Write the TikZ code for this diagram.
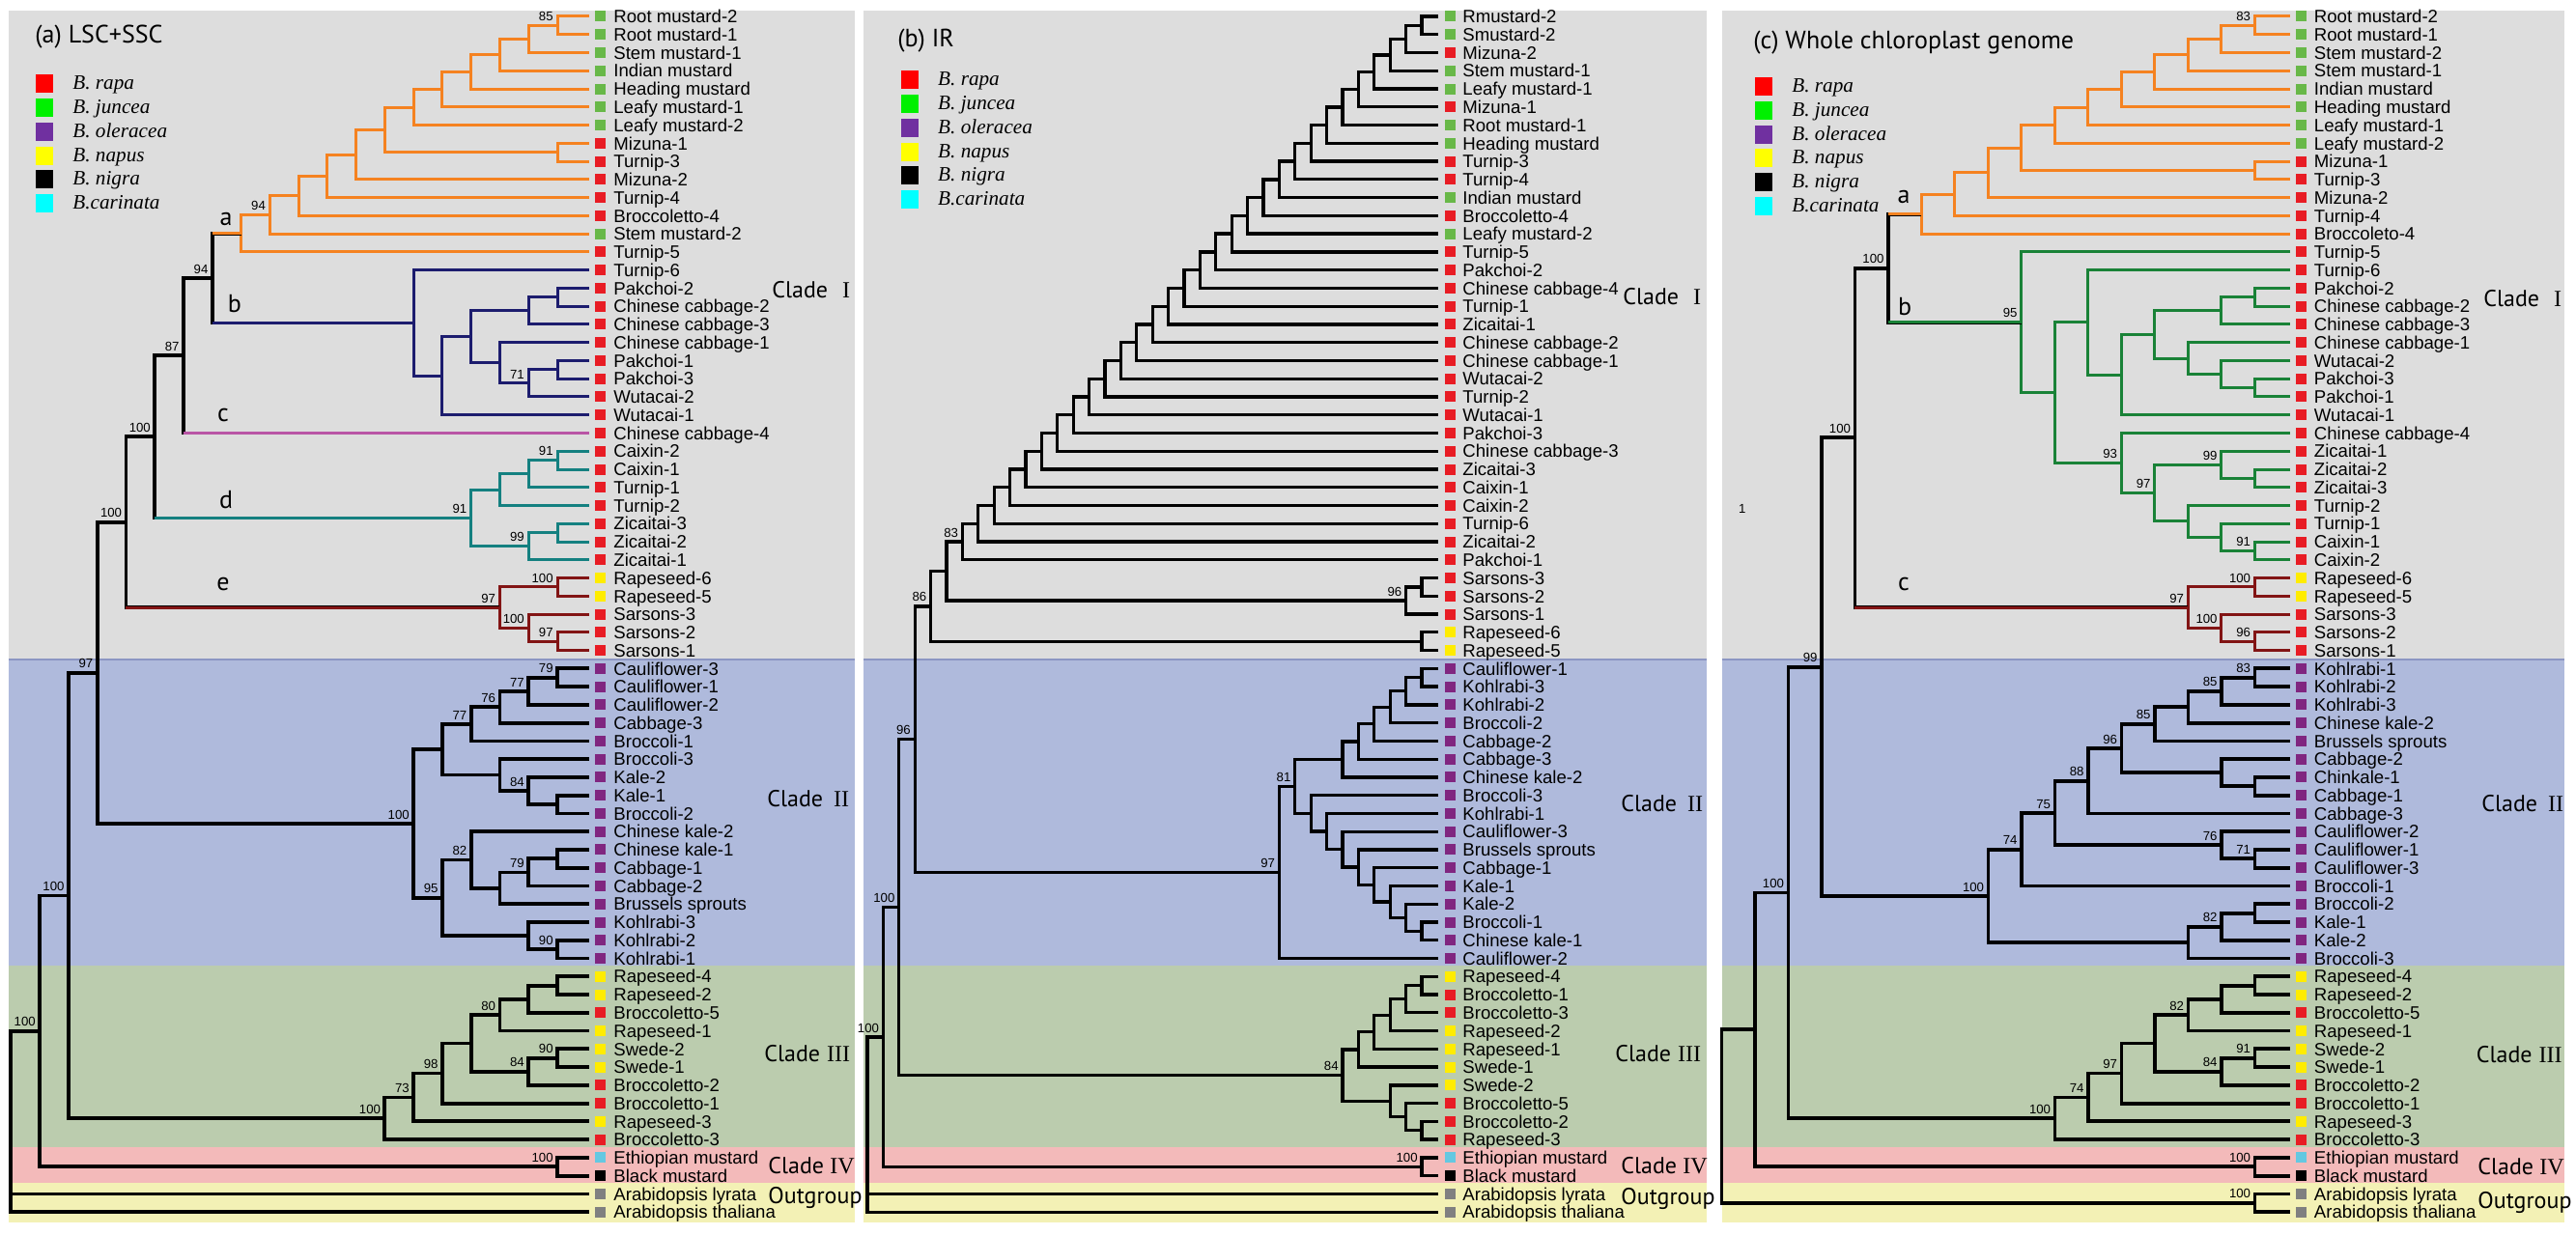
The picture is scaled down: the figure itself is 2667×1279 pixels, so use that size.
\documentclass[tikz,border=0pt]{standalone}
\usepackage{fontspec}
\usetikzlibrary{calc}
\newfontfamily\lsans{Liberation Sans}
\newfontfamily\lserif{Liberation Serif}
\newfontfamily\ptsans{PT Sans}
\definecolor{bgGray}{RGB}{221,221,221}
\definecolor{bgBlue}{RGB}{175,186,220}
\definecolor{bgGreen}{RGB}{187,204,174}
\definecolor{bgPink}{RGB}{243,186,186}
\definecolor{bgYellow}{RGB}{243,241,181}
\definecolor{lnBlue}{RGB}{140,150,195}
\definecolor{xR}{RGB}{232,28,36}
\definecolor{xG}{RGB}{104,184,72}
\definecolor{xP}{RGB}{128,38,128}
\definecolor{xY}{RGB}{255,236,0}
\definecolor{xC}{RGB}{100,200,225}
\definecolor{xK}{RGB}{0,0,0}
\definecolor{xA}{RGB}{128,128,128}
\definecolor{lgR}{RGB}{255,0,0}
\definecolor{lgG}{RGB}{0,240,0}
\definecolor{lgP}{RGB}{112,48,160}
\definecolor{lgY}{RGB}{255,255,0}
\definecolor{lgK}{RGB}{0,0,0}
\definecolor{lgC}{RGB}{0,255,255}
\definecolor{trOR}{RGB}{245,130,32}
\definecolor{trNV}{RGB}{28,28,110}
\definecolor{trMG}{RGB}{185,85,165}
\definecolor{trTL}{RGB}{20,128,128}
\definecolor{trDR}{RGB}{130,20,20}
\definecolor{trGN}{RGB}{25,130,55}
\tikzset{
 tK/.style={draw=black,line width=1.9pt},
 tOR/.style={draw=trOR,line width=1.5pt},
 tNV/.style={draw=trNV,line width=1.5pt},
 tMG/.style={draw=trMG,line width=1.5pt},
 tTL/.style={draw=trTL,line width=1.5pt},
 tDR/.style={draw=trDR,line width=1.5pt},
 tGN/.style={draw=trGN,line width=1.5pt},
 sq/.style={minimum size=5.5pt,inner sep=0pt,outer sep=0pt},
 lbl/.style={font=\lsans\fontsize{9.3}{10}\selectfont,inner sep=0pt,anchor=base west},
 bs/.style={font=\lsans\fontsize{6.6}{7}\selectfont,inner sep=0pt,anchor=south east},
 lg/.style={minimum width=9pt,minimum height=9.5pt,inner sep=0pt},
 lgt/.style={font=\lserif\itshape\fontsize{10.6}{11}\selectfont,inner sep=0pt,anchor=base west},
 ttl/.style={font=\ptsans\fontsize{13}{14}\selectfont,inner sep=0pt,anchor=west},
 cld/.style={font=\ptsans\fontsize{12}{13}\selectfont,inner sep=0pt,anchor=base west},
 brl/.style={font=\ptsans\fontsize{13}{14}\selectfont,inner sep=0pt},
}
\newcommand\trN[5]{\path let \p1=($(#3)!0.5!(#4)$) in coordinate (#1) at ({(#2)*0.5pt},\y1);\draw[#5] (#3) -| (#1) |- (#4);}
\newcommand\trA[5]{\trN{#1}{577-29.77*#2}{#3}{#4}{#5}}
\newcommand\trB[5]{\trN{#1}{1472-16.4*#2}{#3}{#4}{#5}}
\newcommand\trC[5]{\trN{#1}{2334.4-34.5*#2}{#3}{#4}{#5}}
\newcommand\bsv[2]{\node[bs] (L#1) at ([shift={(-2pt,2.2pt)}]#1) {#2};}
\newcommand\mkleaves[5]{\foreach \idx/\col/\lab in {#5}{%
 \coordinate (#1\idx) at (#2,{17+18.76*\idx});
 \node[sq,fill=\col] (#1s\idx) at (#3,{17+18.76*\idx}) {};
 \node[lbl] (#1l\idx) at (#4,{23.7+18.76*\idx}) {\lab};}}
\newcommand\mylegend[4]{\foreach \col/\lab [count=\j from 0] in {lgR/B. rapa,lgG/B. juncea,lgP/B. oleracea,lgY/B. napus,lgK/B. nigra,lgC/B.carinata}{%
 \node[lg,fill=\col] (#1Ls\j) at (#2,{#4+24.7*\j}) {};
 \node[lgt] (#1Lt\j) at (#3,{#4+24.7*\j+6}) {\lab};}}
\newcommand\panelbg[2]{%
 \fill[bgGray] (#1,11) rectangle (#2,683);
 \fill[bgBlue] (#1,683) rectangle (#2,1000);
 \fill[bgGreen] (#1,1000) rectangle (#2,1188);
 \fill[bgPink] (#1,1188) rectangle (#2,1225);
 \fill[bgYellow] (#1,1225) rectangle (#2,1266);
 \draw[lnBlue,line width=0.6pt] (#1,683) -- (#2,683);}
\newcommand\mkclade[4]{\node[cld] (#1) at (#2,{#3+8.4}) {Clade\hspace{3pt}\makebox[13pt]{\lserif #4}};}
\begin{document}
\begin{tikzpicture}[x=0.5pt,y=-0.5pt]
\fill[white] (0,0) rectangle (2667,1279);
\useasboundingbox (0,0) rectangle (2667,1279);
\panelbg{9}{885}
\panelbg{894}{1767}
\panelbg{1783}{2655}
% ---------------- panel (a)
\node[ttl] (titleA) at (36,38) {(a) LSC+SSC};
\mylegend{a}{45.7}{75}{87}
\mkleaves{a}{610}{621}{635}{0/xG/Root mustard-2,1/xG/Root mustard-1,2/xG/Stem mustard-1,3/xG/Indian mustard,4/xG/Heading mustard,5/xG/Leafy mustard-1,6/xG/Leafy mustard-2,7/xR/Mizuna-1,8/xR/Turnip-3,9/xR/Mizuna-2,10/xR/Turnip-4,11/xR/Broccoletto-4,12/xG/Stem mustard-2,13/xR/Turnip-5,14/xR/Turnip-6,15/xR/Pakchoi-2,16/xR/Chinese cabbage-2,17/xR/Chinese cabbage-3,18/xR/Chinese cabbage-1,19/xR/Pakchoi-1,20/xR/Pakchoi-3,21/xR/Wutacai-2,22/xR/Wutacai-1,23/xR/Chinese cabbage-4,24/xR/Caixin-2,25/xR/Caixin-1,26/xR/Turnip-1,27/xR/Turnip-2,28/xR/Zicaitai-3,29/xR/Zicaitai-2,30/xR/Zicaitai-1,31/xY/Rapeseed-6,32/xY/Rapeseed-5,33/xR/Sarsons-3,34/xR/Sarsons-2,35/xR/Sarsons-1,36/xP/Cauliflower-3,37/xP/Cauliflower-1,38/xP/Cauliflower-2,39/xP/Cabbage-3,40/xP/Broccoli-1,41/xP/Broccoli-3,42/xP/Kale-2,43/xP/Kale-1,44/xP/Broccoli-2,45/xP/Chinese kale-2,46/xP/Chinese kale-1,47/xP/Cabbage-1,48/xP/Cabbage-2,49/xP/Brussels sprouts,50/xP/Kohlrabi-3,51/xP/Kohlrabi-2,52/xP/Kohlrabi-1,53/xY/Rapeseed-4,54/xY/Rapeseed-2,55/xR/Broccoletto-5,56/xY/Rapeseed-1,57/xY/Swede-2,58/xY/Swede-1,59/xR/Broccoletto-2,60/xR/Broccoletto-1,61/xY/Rapeseed-3,62/xR/Broccoletto-3,63/xC/Ethiopian mustard,64/xK/Black mustard,65/xA/Arabidopsis lyrata,66/xA/Arabidopsis thaliana}
\trA{aA0}{0}{a0}{a1}{tOR}
\trA{aA1}{1}{aA0}{a2}{tOR}
\trA{aA2}{2}{aA1}{a3}{tOR}
\trA{aA3}{3}{aA2}{a4}{tOR}
\trA{aA4}{4}{aA3}{a5}{tOR}
\trA{aA5}{5}{aA4}{a6}{tOR}
\trA{aA6}{0}{a7}{a8}{tOR}
\trA{aA7}{6}{aA5}{aA6}{tOR}
\trA{aA8}{7}{aA7}{a9}{tOR}
\trA{aA9}{8}{aA8}{a10}{tOR}
\trA{aA10}{9}{aA9}{a11}{tOR}
\trA{aA11}{10}{aA10}{a12}{tOR}
\trA{aA12}{11}{aA11}{a13}{tOR}
\trA{aB0}{0}{a15}{a16}{tNV}
\trA{aB1}{1}{aB0}{a17}{tNV}
\trA{aB2}{0}{a19}{a20}{tNV}
\trA{aB3}{1}{aB2}{a21}{tNV}
\trA{aB4}{2}{a18}{aB3}{tNV}
\trA{aB5}{3}{aB1}{aB4}{tNV}
\trA{aB6}{4}{aB5}{a22}{tNV}
\trA{aB7}{5}{a14}{aB6}{tNV}
\trA{aK1}{12}{aA12}{aB7}{tK}
\draw[tOR] (aA12) -- (aK1 |- aA12);
\draw[tNV] (aB7) -- (aK1 |- aB7);
\trA{aK2}{13}{aK1}{a23}{tK}
\draw[tMG] (a23) -- (aK2 |- a23);
\trA{aD0}{0}{a24}{a25}{tTL}
\trA{aD1}{1}{aD0}{a26}{tTL}
\trA{aD2}{2}{aD1}{a27}{tTL}
\trA{aD3}{0}{a28}{a29}{tTL}
\trA{aD4}{1}{aD3}{a30}{tTL}
\trA{aD5}{3}{aD2}{aD4}{tTL}
\trA{aK3}{14}{aK2}{aD5}{tK}
\draw[tTL] (aD5) -- (aK3 |- aD5);
\trA{aE0}{0}{a31}{a32}{tDR}
\trA{aE1}{0}{a34}{a35}{tDR}
\trA{aE2}{1}{a33}{aE1}{tDR}
\trA{aE3}{2}{aE0}{aE2}{tDR}
\trA{aK4}{15}{aK3}{aE3}{tK}
\draw[tDR] (aE3) -- (aK4 |- aE3);
\trA{aC0}{0}{a36}{a37}{tK}
\trA{aC1}{1}{aC0}{a38}{tK}
\trA{aC2}{2}{aC1}{a39}{tK}
\trA{aC3}{3}{aC2}{a40}{tK}
\trA{aC4}{0}{a43}{a44}{tK}
\trA{aC5}{1}{a42}{aC4}{tK}
\trA{aC6}{2}{a41}{aC5}{tK}
\trA{aC7}{4}{aC3}{aC6}{tK}
\trA{aC8}{0}{a46}{a47}{tK}
\trA{aC9}{1}{aC8}{a48}{tK}
\trA{aC10}{2}{aC9}{a49}{tK}
\trA{aC11}{3}{a45}{aC10}{tK}
\trA{aC12}{0}{a51}{a52}{tK}
\trA{aC13}{1}{a50}{aC12}{tK}
\trA{aC14}{4}{aC11}{aC13}{tK}
\trA{aC15}{5}{aC7}{aC14}{tK}
\trA{aK5}{16}{aK4}{aC15}{tK}
\trA{aT0}{0}{a53}{a54}{tK}
\trA{aT1}{1}{aT0}{a55}{tK}
\trA{aT2}{2}{aT1}{a56}{tK}
\trA{aT3}{0}{a57}{a58}{tK}
\trA{aT4}{1}{aT3}{a59}{tK}
\trA{aT5}{3}{aT2}{aT4}{tK}
\trA{aT6}{4}{aT5}{a60}{tK}
\trA{aT7}{5}{aT6}{a61}{tK}
\trA{aT8}{6}{aT7}{a62}{tK}
\trA{aK6}{17}{aK5}{aT8}{tK}
\trA{aF0}{0}{a63}{a64}{tK}
\trA{aK7}{18}{aK6}{aF0}{tK}
\trA{aR}{19}{aK7}{a66}{tK}
\draw[tK] (a65) -- (aR |- a65);
\bsv{aA0}{85}\bsv{aA11}{94}\bsv{aK1}{94}\bsv{aK2}{87}\bsv{aB3}{71}\bsv{aK3}{100}
\bsv{aD0}{91}\bsv{aD5}{91}\bsv{aD4}{99}\bsv{aE0}{100}\bsv{aE3}{97}\bsv{aE2}{100}
\bsv{aE1}{97}\bsv{aK4}{100}\bsv{aK5}{97}\bsv{aC0}{79}\bsv{aC1}{77}\bsv{aC2}{76}
\bsv{aC3}{77}\bsv{aC5}{84}\bsv{aC15}{100}\bsv{aC11}{82}\bsv{aC9}{79}\bsv{aC14}{95}
\bsv{aC12}{90}\bsv{aK6}{100}\bsv{aT2}{80}\bsv{aT3}{90}\bsv{aT4}{84}\bsv{aT6}{98}
\bsv{aT7}{73}\bsv{aT8}{100}\bsv{aF0}{100}\bsv{aK7}{100}
\node[brl] (brA) at (234,227) {a};
\node[brl] (brB) at (243,315) {b};
\node[brl] (brC) at (231,430) {c};
\node[brl] (brD) at (234,518) {d};
\node[brl] (brE) at (231,605) {e};
\mkclade{aCl1}{799}{300}{I}
\mkclade{aCl2}{794}{827}{II}
\mkclade{aCl3}{791}{1091}{III}
\mkclade{aCl4}{795}{1207}{IV}
\node[cld] (aOut) at (795,1246.4) {Outgroup};
% ---------------- panel (b)
\begin{scope}[tK/.style={draw=black,line width=1.65pt}]
\node[ttl] (titleB) at (929,41.7) {(b) IR};
\mylegend{b}{941.7}{970.8}{83}
\mkleaves{b}{1489}{1501}{1514}{0/xG/Rmustard-2,1/xG/Smustard-2,2/xR/Mizuna-2,3/xG/Stem mustard-1,4/xG/Leafy mustard-1,5/xR/Mizuna-1,6/xG/Root mustard-1,7/xG/Heading mustard,8/xR/Turnip-3,9/xR/Turnip-4,10/xG/Indian mustard,11/xR/Broccoletto-4,12/xG/Leafy mustard-2,13/xR/Turnip-5,14/xR/Pakchoi-2,15/xR/Chinese cabbage-4,16/xR/Turnip-1,17/xR/Zicaitai-1,18/xR/Chinese cabbage-2,19/xR/Chinese cabbage-1,20/xR/Wutacai-2,21/xR/Turnip-2,22/xR/Wutacai-1,23/xR/Pakchoi-3,24/xR/Chinese cabbage-3,25/xR/Zicaitai-3,26/xR/Caixin-1,27/xR/Caixin-2,28/xR/Turnip-6,29/xR/Zicaitai-2,30/xR/Pakchoi-1,31/xR/Sarsons-3,32/xR/Sarsons-2,33/xR/Sarsons-1,34/xY/Rapeseed-6,35/xY/Rapeseed-5,36/xP/Cauliflower-1,37/xP/Kohlrabi-3,38/xP/Kohlrabi-2,39/xP/Broccoli-2,40/xP/Cabbage-2,41/xP/Cabbage-3,42/xP/Chinese kale-2,43/xP/Broccoli-3,44/xP/Kohlrabi-1,45/xP/Cauliflower-3,46/xP/Brussels sprouts,47/xP/Cabbage-1,48/xP/Kale-1,49/xP/Kale-2,50/xP/Broccoli-1,51/xP/Chinese kale-1,52/xP/Cauliflower-2,53/xY/Rapeseed-4,54/xR/Broccoletto-1,55/xR/Broccoletto-3,56/xY/Rapeseed-2,57/xY/Rapeseed-1,58/xY/Swede-1,59/xY/Swede-2,60/xR/Broccoletto-5,61/xR/Broccoletto-2,62/xR/Rapeseed-3,63/xC/Ethiopian mustard,64/xK/Black mustard,65/xA/Arabidopsis lyrata,66/xA/Arabidopsis thaliana}
\trB{bA1}{0}{b0}{b1}{tK}
\foreach \kk in {2,...,30}{\pgfmathtruncatemacro\km{\kk-1}\trB{bA\kk}{\km}{bA\km}{b\kk}{tK}}
\trB{bS0}{0}{b31}{b32}{tK}
\trB{bS1}{1}{bS0}{b33}{tK}
\trB{bK1}{30}{bA30}{bS1}{tK}
\trB{bR0}{0}{b34}{b35}{tK}
\trB{bK2}{31}{bK1}{bR0}{tK}
\trB{bU0}{0}{b36}{b37}{tK}
\trB{bU1}{1}{bU0}{b38}{tK}
\trB{bU2}{2}{bU1}{b39}{tK}
\trB{bU3}{3}{bU2}{b40}{tK}
\trB{bU4}{4}{bU3}{b41}{tK}
\trB{bU5}{5}{bU4}{b42}{tK}
\trB{bL0}{0}{b50}{b51}{tK}
\trB{bL1}{1}{b49}{bL0}{tK}
\trB{bL2}{2}{b48}{bL1}{tK}
\trB{bL3}{3}{b47}{bL2}{tK}
\trB{bL4}{4}{b46}{bL3}{tK}
\trB{bL5}{5}{b45}{bL4}{tK}
\trB{bL6}{6}{b44}{bL5}{tK}
\trB{bL7}{7}{b43}{bL6}{tK}
\trB{bC81}{8}{bU5}{bL7}{tK}
\trB{bC97}{9}{bC81}{b52}{tK}
\trB{bK3}{32}{bK2}{bC97}{tK}
\trB{bT0}{0}{b53}{b54}{tK}
\trB{bT1}{1}{bT0}{b55}{tK}
\trB{bT2}{2}{bT1}{b56}{tK}
\trB{bT3}{3}{bT2}{b57}{tK}
\trB{bT4}{4}{bT3}{b58}{tK}
\trB{bT5}{0}{b61}{b62}{tK}
\trB{bT6}{1}{b60}{bT5}{tK}
\trB{bT7}{2}{b59}{bT6}{tK}
\trB{bT8}{5}{bT4}{bT7}{tK}
\trB{bK4}{33}{bK3}{bT8}{tK}
\trB{bF0}{0}{b63}{b64}{tK}
\trB{bK5}{34}{bK4}{bF0}{tK}
\trB{bRt}{35}{bK5}{b66}{tK}
\draw[tK] (b65) -- (bRt |- b65);
\bsv{bA30}{83}\bsv{bS1}{96}\bsv{bK2}{86}\bsv{bK3}{96}\bsv{bC81}{81}\bsv{bC97}{97}
\bsv{bT8}{84}\bsv{bF0}{100}\bsv{bK4}{100}\bsv{bK5}{100}
\mkclade{bCl1}{1680}{306.7}{I}
\mkclade{bCl2}{1678}{831.7}{II}
\mkclade{bCl3}{1672}{1091}{III}
\mkclade{bCl4}{1678}{1206.7}{IV}
\node[cld] (bOut) at (1678,1247.4) {Outgroup};
\end{scope}
% ---------------- panel (c)
\node[ttl] (titleC) at (1815,44.3) {(c) Whole chloroplast genome};
\mylegend{c}{1825.8}{1855}{89.7}
\mkleaves{c}{2371}{2382}{2395.5}{0/xG/Root mustard-2,1/xG/Root mustard-1,2/xG/Stem mustard-2,3/xG/Stem mustard-1,4/xG/Indian mustard,5/xG/Heading mustard,6/xG/Leafy mustard-1,7/xG/Leafy mustard-2,8/xR/Mizuna-1,9/xR/Turnip-3,10/xR/Mizuna-2,11/xR/Turnip-4,12/xR/Broccoleto-4,13/xR/Turnip-5,14/xR/Turnip-6,15/xR/Pakchoi-2,16/xR/Chinese cabbage-2,17/xR/Chinese cabbage-3,18/xR/Chinese cabbage-1,19/xR/Wutacai-2,20/xR/Pakchoi-3,21/xR/Pakchoi-1,22/xR/Wutacai-1,23/xR/Chinese cabbage-4,24/xR/Zicaitai-1,25/xR/Zicaitai-2,26/xR/Zicaitai-3,27/xR/Turnip-2,28/xR/Turnip-1,29/xR/Caixin-1,30/xR/Caixin-2,31/xY/Rapeseed-6,32/xY/Rapeseed-5,33/xR/Sarsons-3,34/xR/Sarsons-2,35/xR/Sarsons-1,36/xP/Kohlrabi-1,37/xP/Kohlrabi-2,38/xP/Kohlrabi-3,39/xP/Chinese kale-2,40/xP/Brussels sprouts,41/xP/Cabbage-2,42/xP/Chinkale-1,43/xP/Cabbage-1,44/xP/Cabbage-3,45/xP/Cauliflower-2,46/xP/Cauliflower-1,47/xP/Cauliflower-3,48/xP/Broccoli-1,49/xP/Broccoli-2,50/xP/Kale-1,51/xP/Kale-2,52/xP/Broccoli-3,53/xY/Rapeseed-4,54/xY/Rapeseed-2,55/xR/Broccoletto-5,56/xY/Rapeseed-1,57/xY/Swede-2,58/xY/Swede-1,59/xR/Broccoletto-2,60/xR/Broccoletto-1,61/xY/Rapeseed-3,62/xR/Broccoletto-3,63/xC/Ethiopian mustard,64/xK/Black mustard,65/xA/Arabidopsis lyrata,66/xA/Arabidopsis thaliana}
\trC{cA0}{0}{c0}{c1}{tOR}
\trC{cA1}{1}{cA0}{c2}{tOR}
\trC{cA2}{2}{cA1}{c3}{tOR}
\trC{cA3}{3}{cA2}{c4}{tOR}
\trC{cA4}{4}{cA3}{c5}{tOR}
\trC{cA5}{5}{cA4}{c6}{tOR}
\trC{cA6}{6}{cA5}{c7}{tOR}
\trC{cA7}{0}{c8}{c9}{tOR}
\trC{cA8}{7}{cA6}{cA7}{tOR}
\trC{cA9}{8}{cA8}{c10}{tOR}
\trC{cA10}{9}{cA9}{c11}{tOR}
\trC{cA11}{10}{cA10}{c12}{tOR}
\trC{cB0}{0}{c15}{c16}{tGN}
\trC{cB1}{1}{cB0}{c17}{tGN}
\trC{cB2}{0}{c20}{c21}{tGN}
\trC{cB3}{1}{c19}{cB2}{tGN}
\trC{cB4}{2}{c18}{cB3}{tGN}
\trC{cB5}{3}{cB1}{cB4}{tGN}
\trC{cB6}{4}{cB5}{c22}{tGN}
\trC{cB7}{5}{c14}{cB6}{tGN}
\trC{cB8}{0}{c25}{c26}{tGN}
\trC{cB9}{1}{c24}{cB8}{tGN}
\trC{cB10}{0}{c29}{c30}{tGN}
\trC{cB11}{1}{c28}{cB10}{tGN}
\trC{cB12}{2}{c27}{cB11}{tGN}
\trC{cB13}{3}{cB9}{cB12}{tGN}
\trC{cB14}{4}{c23}{cB13}{tGN}
\trC{cB15}{6}{cB7}{cB14}{tGN}
\trC{cB16}{7}{c13}{cB15}{tGN}
\trC{cK1}{11}{cA11}{cB16}{tK}
\draw[tOR] (cA11) -- (cK1 |- cA11);
\draw[tGN] (cB16) -- (cK1 |- cB16);
\trC{cE0}{0}{c31}{c32}{tDR}
\trC{cE1}{0}{c34}{c35}{tDR}
\trC{cE2}{1}{c33}{cE1}{tDR}
\trC{cE3}{2}{cE0}{cE2}{tDR}
\trC{cK2}{12}{cK1}{cE3}{tK}
\draw[tDR] (cE3) -- (cK2 |- cE3);
\trC{cC0}{0}{c36}{c37}{tK}
\trC{cC1}{1}{cC0}{c38}{tK}
\trC{cC2}{2}{cC1}{c39}{tK}
\trC{cC3}{3}{cC2}{c40}{tK}
\trC{cC4}{0}{c42}{c43}{tK}
\trC{cC5}{1}{c41}{cC4}{tK}
\trC{cC6}{4}{cC3}{cC5}{tK}
\trC{cC7}{5}{cC6}{c44}{tK}
\trC{cC8}{0}{c46}{c47}{tK}
\trC{cC9}{1}{c45}{cC8}{tK}
\trC{cC10}{6}{cC7}{cC9}{tK}
\trC{cC11}{7}{cC10}{c48}{tK}
\trC{cC12}{0}{c49}{c50}{tK}
\trC{cC13}{1}{cC12}{c51}{tK}
\trC{cC14}{2}{cC13}{c52}{tK}
\trC{cC15}{8}{cC11}{cC14}{tK}
\trC{cK3}{13}{cK2}{cC15}{tK}
\trC{cT0}{0}{c53}{c54}{tK}
\trC{cT1}{1}{cT0}{c55}{tK}
\trC{cT2}{2}{cT1}{c56}{tK}
\trC{cT3}{0}{c57}{c58}{tK}
\trC{cT4}{1}{cT3}{c59}{tK}
\trC{cT5}{3}{cT2}{cT4}{tK}
\trC{cT6}{4}{cT5}{c60}{tK}
\trC{cT7}{5}{cT6}{c61}{tK}
\trC{cT8}{6}{cT7}{c62}{tK}
\trC{cK4}{14}{cK3}{cT8}{tK}
\trC{cF0}{0}{c63}{c64}{tK}
\trC{cK5}{15}{cK4}{cF0}{tK}
\trC{cO0}{0}{c65}{c66}{tK}
\trC{cRt}{16}{cK5}{cO0}{tK}
\bsv{cA0}{83}\bsv{cK1}{100}\bsv{cB16}{95}\bsv{cB14}{93}\bsv{cB13}{97}\bsv{cB9}{99}
\bsv{cB10}{91}\bsv{cE0}{100}\bsv{cE3}{97}\bsv{cE2}{100}\bsv{cE1}{96}\bsv{cK2}{100}
\bsv{cK3}{99}\bsv{cC0}{83}\bsv{cC1}{85}\bsv{cC3}{85}\bsv{cC6}{96}\bsv{cC7}{88}
\bsv{cC10}{75}\bsv{cC9}{76}\bsv{cC8}{71}\bsv{cC11}{74}\bsv{cC15}{100}\bsv{cC13}{82}
\bsv{cK4}{100}\bsv{cT2}{82}\bsv{cT3}{91}\bsv{cT4}{84}\bsv{cT6}{97}\bsv{cT7}{74}
\bsv{cT8}{100}\bsv{cF0}{100}\bsv{cO0}{100}
\node[bs,anchor=center] (cOne) at (1803.8,526.7) {1};
\node[brl] (crA) at (1971,204) {a};
\node[brl] (crB) at (1972,318) {b};
\node[brl] (crC) at (1971,605) {c};
\mkclade{cCl1}{2571}{309}{I}
\mkclade{cCl2}{2569}{831.7}{II}
\mkclade{cCl3}{2563.5}{1091.7}{III}
\mkclade{cCl4}{2565}{1208}{IV}
\node[cld] (cOut) at (2565,1251.4) {Outgroup};
\end{tikzpicture}
\end{document}
